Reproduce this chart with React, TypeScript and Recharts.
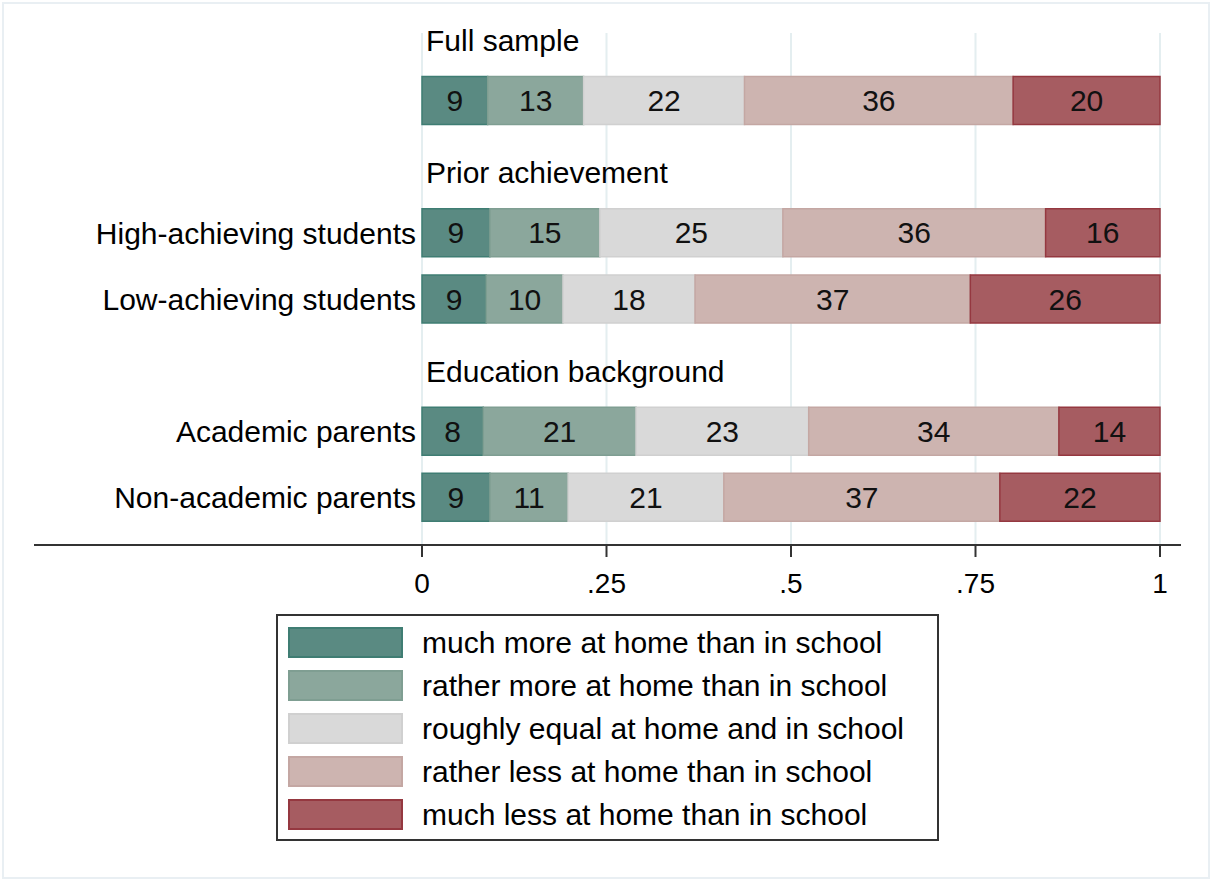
import { BarChart, Bar, XAxis, YAxis, CartesianGrid, LabelList, Legend } from 'recharts';

// rows from top to bottom; group headings sit in their own rows
const rows = [
  'Full sample',
  '',
  'Prior achievement',
  'High-achieving students',
  'Low-achieving students',
  'Education background',
  'Academic parents',
  'Non-academic parents',
];
const headingRows = ['Full sample', 'Prior achievement', 'Education background'];

// shares in percent
const muchMore = [null, 8.9, null, 9.2, 8.7, null, 8.3, 9.2];
const ratherMore = [null, 13.0, null, 14.9, 10.4, null, 20.7, 10.6];
const roughlyEqual = [null, 21.8, null, 24.8, 17.9, null, 23.4, 21.1];
const ratherLess = [null, 36.4, null, 35.6, 37.3, null, 33.9, 37.4];
const muchLess = [null, 19.9, null, 15.5, 25.7, null, 13.7, 21.7];

const xTicks = [0, 25, 50, 75, 100];
const xTickLabels = ['0', '.25', '.5', '.75', '1'];

const seriesNames = [
  'much more at home than in school',
  'rather more at home than in school',
  'roughly equal at home and in school',
  'rather less at home than in school',
  'much less at home than in school',
];
const seriesValues = [muchMore, ratherMore, roughlyEqual, ratherLess, muchLess];
const fills = ['#5a8a82', '#8ba79c', '#d9d9d9', '#cdb4b0', '#a65c61'];
const strokes = ['#3f7d73', '#7f9e92', '#d0d0d0', '#c4a7a3', '#953840'];

const FONT = '"Liberation Sans", Arial, sans-serif';

const data = rows.map((row, i) => {
  const d: Record<string, string | number | null> = { row };
  seriesValues.forEach((vals, s) => {
    d['s' + s] = vals[i];
  });
  return d;
});

function RowTick(props: any) {
  const { x, y, payload } = props;
  const label = payload.value as string;
  if (!label) return null;
  if (headingRows.includes(label)) {
    return (
      <text x={x + 10} y={y + 6} dy="0.355em" textAnchor="start" fontSize={30} fontFamily={FONT} fill="#000">
        {label}
      </text>
    );
  }
  return (
    <text x={x} y={y} dy="0.355em" textAnchor="end" fontSize={30} fontFamily={FONT} fill="#000">
      {label}
    </text>
  );
}

function LegendBox() {
  return (
    <div
      style={{
        boxSizing: 'border-box',
        width: 663,
        height: 227,
        border: '2px solid #333',
        padding: '5px 0 0 10px',
        background: '#fff',
        fontFamily: FONT,
      }}
    >
      {seriesNames.map((name, i) => (
        <div key={name} style={{ display: 'flex', alignItems: 'center', height: 43 }}>
          <div
            style={{
              boxSizing: 'border-box',
              width: 115,
              height: 31,
              background: fills[i],
              border: `2px solid ${strokes[i]}`,
              marginRight: 19,
            }}
          />
          <span style={{ fontSize: 30, color: '#000', whiteSpace: 'nowrap' }}>{name}</span>
        </div>
      ))}
    </div>
  );
}

export default function App() {
  return (
    <div style={{ position: 'absolute', left: 0, top: 0, width: 1212, height: 881, background: '#fff' }}>
      <div
        style={{
          position: 'absolute',
          left: 2,
          top: 2,
          width: 1208,
          height: 877,
          boxSizing: 'border-box',
          border: '2px solid #e9eff3',
        }}
      />
      <BarChart
        width={1212}
        height={881}
        data={data}
        layout="vertical"
        margin={{ top: 1.5, right: 52, bottom: 306, left: 0 }}
        barCategoryGap={0}
      >
        <CartesianGrid vertical horizontal={false} y={33} height={512} stroke="#e4eef0" strokeWidth={2} />
        <XAxis
          type="number"
          domain={[0, 100]}
          ticks={xTicks}
          tickFormatter={(v: number) => xTickLabels[xTicks.indexOf(v)]}
          axisLine={false}
          tickLine={{ stroke: '#333', strokeWidth: 2 }}
          tickSize={12}
          tickMargin={16}
          height={30}
          tick={{ fontSize: 28, fontFamily: FONT, fill: '#000' }}
          interval={0}
        />
        <YAxis
          type="category"
          dataKey="row"
          width={422}
          axisLine={false}
          tickLine={false}
          tickSize={0}
          tickMargin={6}
          tick={<RowTick />}
          interval={0}
          padding={{ top: 0, bottom: 14.6 }}
        />
        {seriesNames.map((name, s) => (
          <Bar
            key={name}
            dataKey={'s' + s}
            name={name}
            stackId="share"
            fill={fills[s]}
            stroke={strokes[s]}
            strokeWidth={1.5}
            barSize={48}
            isAnimationActive={false}
          >
            <LabelList
              dataKey={'s' + s}
              position="center"
              formatter={(v: any) => (v == null ? '' : String(Math.round(v)))}
              style={{ fontSize: 30, fontFamily: FONT, fill: '#111' }}
            />
          </Bar>
        ))}
        <Legend
          layout="horizontal"
          verticalAlign="middle"
          align="center"
          content={() => <LegendBox />}
          wrapperStyle={{ left: 276, top: 614, width: 663, height: 227 }}
        />
      </BarChart>
      <div style={{ position: 'absolute', left: 34, top: 544, width: 1147, height: 2, background: '#333' }} />
    </div>
  );
}
